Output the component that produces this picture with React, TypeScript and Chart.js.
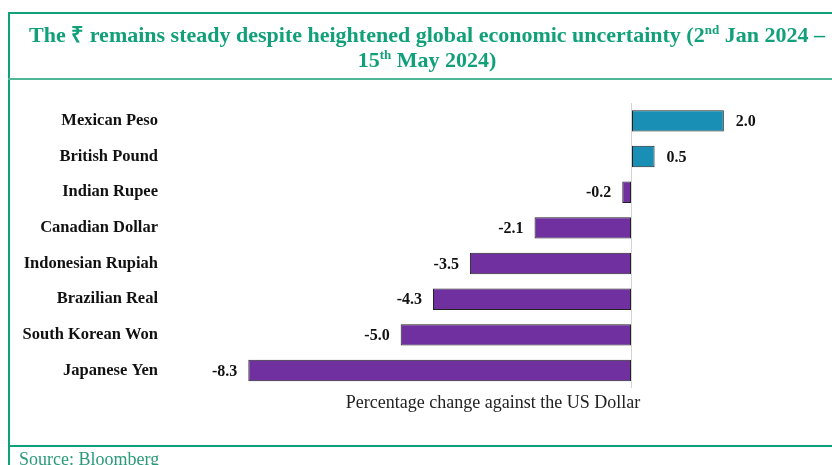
import React, { useEffect, useRef } from "react";
import { Chart, registerables } from "chart.js";

Chart.register(...registerables);

const categories = [
  "Mexican Peso",
  "British Pound",
  "Indian Rupee",
  "Canadian Dollar",
  "Indonesian Rupiah",
  "Brazilian Real",
  "South Korean Won",
  "Japanese Yen",
];
const changes = [2.0, 0.5, -0.2, -2.1, -3.5, -4.3, -5.0, -8.3];
const xMin = -9;
const xMax = 3;

const POS = "#1a8fb5";
const NEG = "#7030a0";
const GREEN = "#11a07a";

const valueLabels = {
  id: "valueLabels",
  afterDatasetsDraw(chart: any) {
    const ctx = chart.ctx;
    const meta = chart.getDatasetMeta(0);
    ctx.save();
    ctx.font = "bold 16px 'Liberation Serif', serif";
    ctx.fillStyle = "#111";
    ctx.textBaseline = "middle";
    meta.data.forEach((el: any, i: number) => {
      const v = changes[i];
      const txt = v.toFixed(1);
      if (v >= 0) {
        ctx.textAlign = "left";
        ctx.fillText(txt, el.x + 12, el.y + 1);
      } else {
        ctx.textAlign = "right";
        ctx.fillText(txt, el.x - 11, el.y + 1);
      }
    });
    ctx.restore();
  },
};

export default function App() {
  const ref = useRef<HTMLCanvasElement | null>(null);
  useEffect(() => {
    if (!ref.current) return;
    const chart = new Chart(ref.current, {
      type: "bar",
      data: {
        labels: categories,
        datasets: [
          {
            data: changes,
            backgroundColor: changes.map((v) => (v >= 0 ? POS : NEG)),
            borderColor: "#222",
            borderWidth: 1,
            borderSkipped: false,
            barPercentage: 0.6,
            categoryPercentage: 1,
          },
        ],
      },
      options: {
        indexAxis: "y",
        animation: false,
        responsive: false,
        maintainAspectRatio: false,
        layout: { padding: { left: 0, top: 103, bottom: 51, right: 62 } },
        plugins: { legend: { display: false }, tooltip: { enabled: false } },
        scales: {
          x: {
            min: xMin,
            max: xMax,
            ticks: { display: false, stepSize: 1 },
            border: { display: false },
            grid: {
              drawTicks: false,
              lineWidth: 1,
              color: (c: any) => (c.tick && c.tick.value === 0 ? "#d4d4d4" : "rgba(0,0,0,0)"),
            },
            title: {
              display: true,
              text: "Percentage change against the US Dollar",
              font: { family: "'Liberation Serif', serif", size: 18 },
              color: "#222",
              padding: { top: 4, bottom: 0 },
            },
          },
          y: {
            afterFit: (s: any) => {
              s.width = 216;
            },
            border: { display: false },
            grid: { display: false, drawTicks: false },
            ticks: {
              padding: 58,
              color: "#111",
              font: { family: "'Liberation Serif', serif", size: 16.5, weight: "bold" },
            },
          },
        },
      },
      plugins: [valueLabels],
    });
    return () => chart.destroy();
  }, []);

  return (
    <div
      style={{
        position: "absolute",
        left: 0,
        top: 0,
        width: 832,
        height: 465,
        overflow: "hidden",
        background: "#fff",
      }}
    >
      <canvas ref={ref} width={832} height={465} style={{ position: "absolute", left: 0, top: 0 }} />
      <div style={{ position: "absolute", left: 8, top: 12, width: 830, height: 2, background: GREEN }} />
      <div style={{ position: "absolute", left: 8, top: 12, width: 2, height: 460, background: GREEN }} />
      <div style={{ position: "absolute", left: 8, top: 78, width: 830, height: 1.5, background: "#4db896" }} />
      <div style={{ position: "absolute", left: 8, top: 445, width: 830, height: 2, background: GREEN }} />
      <div
        style={{
          position: "absolute",
          left: 9,
          top: 22,
          width: 836,
          textAlign: "center",
          color: GREEN,
          fontFamily: "'Liberation Serif', serif",
          fontWeight: "bold",
          fontSize: 22,
          lineHeight: "25px",
        }}
      >
        The ₹ remains steady despite heightened global economic uncertainty (2<sup style={{ fontSize: 13, lineHeight: 0 }}>nd</sup> Jan 2024 –
        <br />
        15<sup style={{ fontSize: 13, lineHeight: 0 }}>th</sup> May 2024)
      </div>
      <div
        style={{
          position: "absolute",
          left: 19,
          top: 449,
          color: "#2a9a7a",
          fontFamily: "'Liberation Serif', serif",
          fontSize: 18,
          lineHeight: "20px",
        }}
      >
        Source: Bloomberg
      </div>
    </div>
  );
}
